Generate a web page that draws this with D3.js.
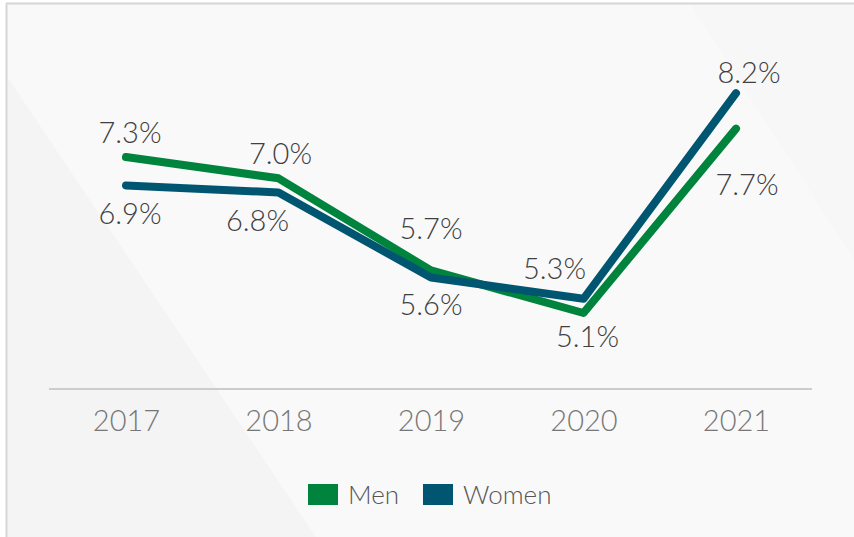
<!DOCTYPE html>
<html>
<head>
<meta charset="utf-8">
<script src="https://cdn.jsdelivr.net/npm/d3@7"></script>
<style>
  body { margin: 0; background: #fff; }
  svg { display: block; font-family: Lato, "Open Sans", sans-serif; }
</style>
</head>
<body>
<div id="container"></div>
<script>
const years = ["2017", "2018", "2019", "2020", "2021"];
const men = [7.3, 7.0, 5.7, 5.1, 7.7];
const women = [6.9, 6.8, 5.6, 5.3, 8.2];
const seriesNames = ["Men", "Women"];

const width = 854, height = 537;
const colors = { Men: "#00843d", Women: "#005670" };

// label offsets from each point (px)
const labelOffsets = {
  Men: [[4, -24], [2, -24], [0, -42], [4, 24], [11, 56]],
  Women: [[4, 28], [-21, 28], [0, 27], [-29, -30], [13, -20]]
};

const svg = d3.select("#container").append("svg")
  .attr("width", width).attr("height", height);

// panel background
svg.append("rect").attr("x", 6).attr("y", 3).attr("width", width - 6).attr("height", height - 3)
  .attr("fill", "#f9f9f9");
svg.append("path").attr("d", "M6,75 L6,537 L316,537 Z").attr("fill", "#f4f4f4");
svg.append("path").attr("d", "M690,3 L854,3 L854,260 Z").attr("fill", "#f7f7f7");
svg.append("line").attr("x1", 6).attr("x2", width).attr("y1", 3.5).attr("y2", 3.5)
  .attr("stroke", "#d6d6d6").attr("stroke-width", 2);
svg.append("line").attr("x1", 6.5).attr("x2", 6.5).attr("y1", 3).attr("y2", height)
  .attr("stroke", "#d6d6d6").attr("stroke-width", 2);

const x = d3.scalePoint().domain(years).range([126, 736]);
const y = d3.scaleLinear().domain([4, 9]).range([391, 36.5]);

// baseline + year labels
const xAxis = d3.axisBottom(x).tickSize(0).tickPadding(21);
const gx = svg.append("g").attr("transform", "translate(0,389)").call(xAxis);
gx.select(".domain").remove();
gx.append("line").attr("x1", 49).attr("x2", 812)
  .attr("stroke", "#cccccc").attr("stroke-width", 2);
gx.selectAll(".tick text")
  .attr("font-size", 29).attr("font-weight", 300).attr("fill", "#777")
  .attr("font-family", "Lato, sans-serif");

const line = d3.line().x((d, i) => x(years[i])).y(d => y(d));
const data = { Men: men, Women: women };

seriesNames.forEach(name => {
  svg.append("path").datum(data[name])
    .attr("fill", "none").attr("stroke", colors[name]).attr("stroke-width", 8)
    .attr("stroke-linecap", "round").attr("stroke-linejoin", "round")
    .attr("d", line);
});

seriesNames.forEach(name => {
  svg.append("g").selectAll("text").data(data[name]).join("text")
    .attr("x", (d, i) => x(years[i]) + labelOffsets[name][i][0])
    .attr("y", (d, i) => y(d) + labelOffsets[name][i][1])
    .attr("dy", "0.35em").attr("text-anchor", "middle")
    .attr("font-size", 29).attr("font-weight", 300).attr("fill", "#404040")
    .text(d => d.toFixed(1) + "%");
});

// legend
const legendX = d3.scaleOrdinal().domain(seriesNames).range([308, 423]);
const legend = svg.append("g").selectAll("g").data(seriesNames).join("g")
  .attr("transform", d => `translate(${legendX(d)},484)`);
legend.append("rect").attr("width", 30).attr("height", 21).attr("fill", d => colors[d]);
legend.append("text").attr("x", 40).attr("y", 11).attr("dy", "0.35em")
  .attr("font-size", 26).attr("font-weight", 300).attr("fill", "#555")
  .text(d => d);
</script>
</body>
</html>
